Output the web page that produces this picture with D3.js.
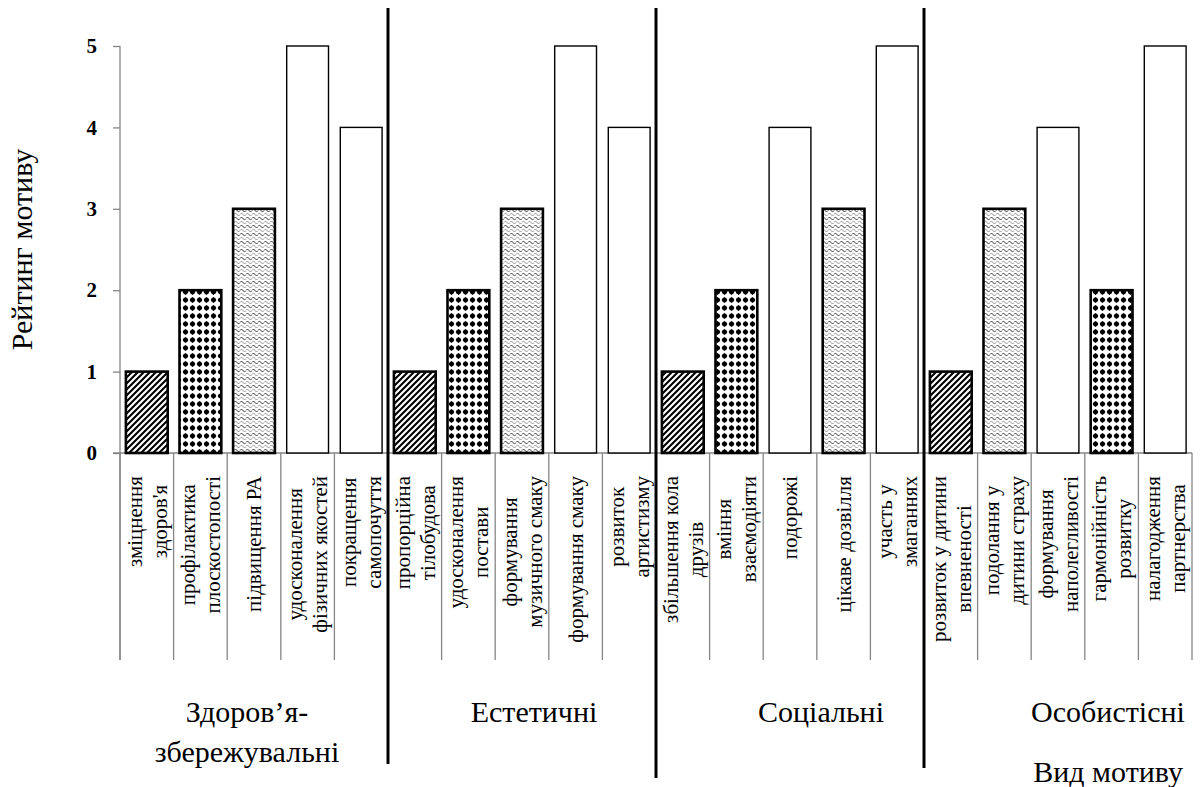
<!DOCTYPE html>
<html>
<head>
<meta charset="utf-8">
<script src="https://cdnjs.cloudflare.com/ajax/libs/d3/7.8.5/d3.min.js"></script>
</head>
<body style="margin:0">
<svg id="chart" width="1201" height="787"></svg>
<script>
// ---------- data ----------
const groupLabels = [["Здоров’я-", "збережувальні"], ["Естетичні"], ["Соціальні"], ["Особистісні"]];
const categoryLabels = [
  ["зміцнення", "здоров'я"], ["профілактика", "плоскостопості"], ["підвищення РА"], ["удосконалення", "фізичних якостей"], ["покращення", "самопочуття"],
  ["пропорційна", "тілобудова"], ["удосконалення", "постави"], ["формування", "музичного смаку"], ["формування смаку"], ["розвиток", "артистизму"],
  ["збільшення кола", "друзів"], ["вміння", "взаємодіяти"], ["подорожі"], ["цікаве дозвілля"], ["участь у", "змаганнях"],
  ["розвиток у дитини", "впевненості"], ["подолання у", "дитини страху"], ["формування", "наполегливості"], ["гармонійність", "розвитку"], ["налагодження", "партнерства"]
];
const categoryGroup = [0,0,0,0,0, 1,1,1,1,1, 2,2,2,2,2, 3,3,3,3,3];
const values = [1,2,3,5,4, 1,2,3,5,4, 1,2,4,3,5, 1,3,4,2,5];
const yTicks = [0, 1, 2, 3, 4, 5];
const yTitle = "Рейтинг мотиву";
const xTitle = "Вид мотиву";

// ---------- layout ----------
const svg = d3.select("#chart");
const plot = { left: 120, right: 1192, top: 46, bottom: 453 };
const axisBottom = 660;
const axisColor = "#868686";
const FONT = "Tinos, 'Liberation Serif', FreeSerif, 'Times New Roman', serif";

const x = d3.scaleBand().domain(d3.range(values.length)).range([plot.left, plot.right]).padding(0);
const y = d3.scaleLinear().domain([0, 5]).range([plot.bottom, plot.top]);
const gx = d3.scalePoint().domain(d3.range(groupLabels.length)).range([247, 1108]);

svg.append("rect").attr("width", 1201).attr("height", 787).attr("fill", "#fff");

// ---------- patterns ----------
const defs = svg.append("defs");
const hatch = defs.append("pattern").attr("id", "p1").attr("patternUnits", "userSpaceOnUse")
  .attr("width", 6).attr("height", 6);
hatch.append("rect").attr("width", 6).attr("height", 6).attr("fill", "#fff");
hatch.append("path").attr("d", "M0,6 L6,0 M-1.5,1.5 L1.5,-1.5 M4.5,7.5 L7.5,4.5")
  .attr("stroke", "#000").attr("stroke-width", 2.1);

const dots = defs.append("pattern").attr("id", "p2").attr("patternUnits", "userSpaceOnUse")
  .attr("width", 7).attr("height", 8);
dots.append("rect").attr("width", 7).attr("height", 8).attr("fill", "#fff");
dots.append("path").attr("d", "M3.5,0.9 L6.4,4 L3.5,7.1 L0.6,4 Z").attr("fill", "#000");
dots.append("circle").attr("cx", 3.5).attr("cy", 4).attr("r", 2.4).attr("fill", "#000");

const wave = defs.append("pattern").attr("id", "p3").attr("patternUnits", "userSpaceOnUse")
  .attr("width", 6).attr("height", 8);
wave.append("rect").attr("width", 6).attr("height", 8).attr("fill", "#fff");
wave.append("path").attr("d", "M0,2.5 L1.5,1 L4.5,4 L6,2.5").attr("fill", "none")
  .attr("stroke", "#222").attr("stroke-width", 0.9);
wave.append("path").attr("d", "M0,6.5 L1.5,5 L4.5,8 L6,6.5").attr("fill", "none")
  .attr("stroke", "#888").attr("stroke-width", 0.9);

const fillFor = v => v === 1 ? "url(#p1)" : v === 2 ? "url(#p2)" : v === 3 ? "url(#p3)" : "#fff";

function txt(sel, size, weight) {
  return sel.attr("font-family", FONT).style("font-family", FONT)
    .attr("font-size", size).style("font-size", size + "px")
    .attr("font-weight", weight || "normal").style("fill", "#000");
}

// ---------- axes ----------
const yAxis = d3.axisLeft(y).tickValues(yTicks).tickSize(7).tickFormat(d3.format("d"));
const gy = svg.append("g").attr("transform", `translate(${plot.left},0)`).call(yAxis);
gy.attr("font-family", FONT).attr("font-size", 21);
gy.select(".domain").remove();
gy.selectAll(".tick line").attr("stroke", axisColor).attr("stroke-width", 1.3);
txt(gy.selectAll(".tick text").attr("x", -23).attr("dy", "0.32em"), 21, "bold");

svg.append("line").attr("x1", plot.left).attr("x2", plot.left)
  .attr("y1", plot.top).attr("y2", axisBottom)
  .attr("stroke", axisColor).attr("stroke-width", 1.3);

svg.append("line").attr("x1", plot.left - 7).attr("x2", plot.right)
  .attr("y1", y(0)).attr("y2", y(0))
  .attr("stroke", axisColor).attr("stroke-width", 1.3);

svg.append("g").selectAll("line").data(d3.range(values.length + 1)).join("line")
  .attr("x1", i => i < values.length ? x(i) : x(i - 1) + x.bandwidth())
  .attr("x2", i => i < values.length ? x(i) : x(i - 1) + x.bandwidth())
  .attr("y1", y(0)).attr("y2", axisBottom)
  .attr("stroke", axisColor).attr("stroke-width", 1.3);

// ---------- bars ----------
const barPad = 0.11;
svg.append("g").selectAll("rect").data(values).join("rect")
  .attr("x", (d, i) => x(i) + x.bandwidth() * barPad)
  .attr("width", x.bandwidth() * (1 - 2 * barPad))
  .attr("y", d => y(d))
  .attr("height", d => y(0) - y(d))
  .attr("fill", d => fillFor(d))
  .attr("stroke", "#000")
  .attr("stroke-width", d => d <= 3 ? 2.6 : 1.4);

// ---------- category labels (rotated) ----------
const labelTop = 476, lineGap = 25, catFont = 21;
const catG = svg.append("g");
categoryLabels.forEach((lines, i) => {
  const cx = x(i) + x.bandwidth() / 2;
  const tmp = txt(catG.append("text"), catFont);
  const widths = lines.map(l => { tmp.text(l); return tmp.node().getComputedTextLength(); });
  tmp.remove();
  const maxW = d3.max(widths);
  const cy = labelTop + maxW / 2;
  lines.forEach((l, k) => {
    const off = (k - (lines.length - 1) / 2) * lineGap;
    txt(catG.append("text"), catFont)
      .attr("transform", `translate(${cx + off},${cy}) rotate(-90)`)
      .attr("text-anchor", "middle")
      .attr("dy", "0.35em")
      .text(l);
  });
});

// ---------- group labels ----------
groupLabels.forEach((lines, g) => {
  lines.forEach((l, k) => {
    txt(svg.append("text"), 30)
      .attr("x", gx(g)).attr("y", 722 + k * 40)
      .attr("text-anchor", "middle")
      .text(l);
  });
});

// ---------- group separators ----------
const sepBottoms = [764, 778, 768];
[5, 10, 15].forEach((b, k) => {
  svg.append("line").attr("x1", x(b)).attr("x2", x(b))
    .attr("y1", 8).attr("y2", sepBottoms[k])
    .attr("stroke", "#000").attr("stroke-width", 3);
});

// ---------- titles ----------
txt(svg.append("text"), 30)
  .attr("transform", `translate(32,${(plot.top + plot.bottom) / 2}) rotate(-90)`)
  .attr("text-anchor", "middle")
  .text(yTitle);

txt(svg.append("text"), 30)
  .attr("x", 1183).attr("y", 782)
  .attr("text-anchor", "end")
  .text(xTitle);
</script>
</body>
</html>
